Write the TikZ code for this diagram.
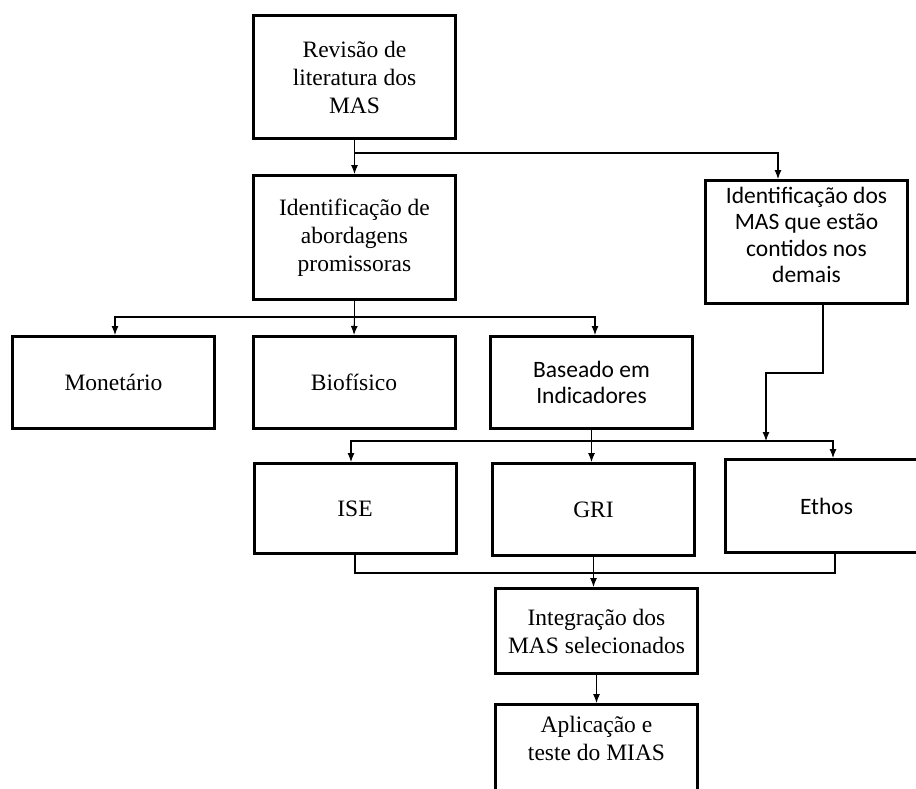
\documentclass[tikz,border=0pt]{standalone}
\usepackage{fontspec}
\setmainfont{Liberation Serif}
\newfontfamily\calibri{Carlito}
\usetikzlibrary{arrows.meta}

\begin{document}
\begin{tikzpicture}[x=1pt, y=-1pt,
  box/.style={draw, line width=3pt, align=center, minimum width=202pt,
              inner sep=2pt, font=\fontsize{23.5}{28}\selectfont},
  sbox/.style={box, font=\calibri\fontsize{23.5}{26.5}\selectfont},
  ln/.style={line width=1.1pt},
  arr/.style={ln, -{Latex[length=9pt,width=7pt]}}]
  \useasboundingbox (0,0) rectangle (916,788);
  \node[box, minimum height=123pt] (rev) at (354.5,77) {Revisão de\\literatura dos\\MAS};
  \node[box, minimum height=124pt] (abord) at (354.5,237.5) {Identificação de\\abordagens\\promissoras};
  \node[sbox, minimum height=123pt, text depth=14pt] (cont) at (806.5,242)
    {Identificação dos\\MAS que estão\\contidos nos\\demais};
  \node[box, minimum height=92pt] (mon) at (113.5,382.5) {Monetário};
  \node[box, minimum height=92pt] (bio) at (354,382.5) {Biofísico};
  \node[sbox, minimum height=92pt] (ind) at (591.5,382.5) {Baseado em\\Indicadores};
  \node[box, minimum height=90pt] (ise) at (355,508.5) {ISE};
  \node[box, minimum height=92pt] (gri) at (593.5,509.5) {GRI};
  \node[sbox, minimum height=93pt] (eth) at (826.5,506) {Ethos};
  \node[box, minimum height=85pt] (integ) at (596.5,631) {Integração dos\\MAS selecionados};
  \node[box, anchor=north, inner ysep=12pt, text depth=40pt] (apl) at (596.5,703)
    {Aplicação e\\teste do MIAS};
  \coordinate (mrg) at (766,441);
  % top
  \draw[arr] (rev) -- (abord);
  \draw[arr] (rev.south |- 0,153) -| ([xshift=-28.5pt]cont.north);
  % approaches
  \draw[ln] (abord.south) -- (abord.south |- 0,317);
  \draw[arr] (abord.south |- 0,317) -- (bio.north);
  \draw[arr] (abord.south |- 0,317) -| ([xshift=1.5pt]mon.north);
  \draw[arr] (abord.south |- 0,317) -| ([xshift=3.5pt]ind.north);
  % indicators
  \draw[arr] (ind.south) -- (ind.south |- gri.north);
  \draw[arr] (ind.south |- 0,441) -| ([xshift=-4pt]ise.north);
  \draw[arr] (ind.south |- 0,441) -| ([xshift=6.5pt]eth.north);
  \draw[arr] ([xshift=16.5pt]cont.south) -- ++(0,68) -| (mrg);
  % integration
  \draw[ln] (ise.south) -- (ise.south |- 0,573) -| ([xshift=8.5pt]eth.south);
  \draw[arr] (gri.south) -- (gri.south |- integ.north);
  \draw[arr] (integ.south) -- (integ.south |- apl.north);
\end{tikzpicture}
\end{document}
